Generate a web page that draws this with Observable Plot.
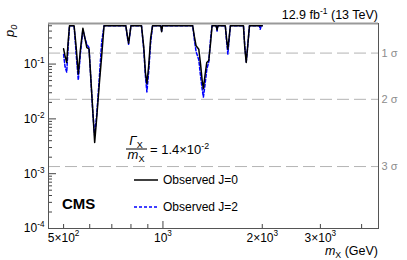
<!DOCTYPE html>
<html><head><meta charset="utf-8">
<script src="https://cdn.jsdelivr.net/npm/d3@7"></script>
<script src="https://cdn.jsdelivr.net/npm/@observablehq/plot@0.6"></script>
<style>html,body{margin:0;padding:0;background:#fff} svg{display:block}</style>
</head><body><div id="chart"></div>
<script>
// ---- data ----
const massJ0 = [500,505,511,516,521,538,546,554,562,572,580,588,597,605,613,621,630,642,652,663,
  772,780,787,795,800,861,875,885,894,905,918,930,985,991,997,
  1231,1245,1260,1284,1300,1315,1326,1340,1358,1377,1395,1409,1450,1459,1467,
  1545,1560,1573,1587,1601,1754,1770,1788,1805,1829,2000];
const p0J0 = [0.19,0.14,0.107,0.25,0.5,0.5,0.2,0.066,0.18,0.45,0.3,0.2,0.19,0.052,0.014,0.0037,0.0106,0.046,0.138,0.5,
  0.5,0.33,0.24,0.38,0.5,0.5,0.2,0.07,0.044,0.09,0.3,0.5,0.5,0.39,0.5,
  0.5,0.32,0.216,0.187,0.1,0.05,0.0355,0.06,0.107,0.116,0.25,0.5,0.5,0.42,0.5,
  0.5,0.28,0.187,0.3,0.5,0.5,0.2,0.107,0.2,0.5,0.5];
const massJ2 = [500,505,511,516,521,538,546,554,562,572,580,588,597,605,613,621,630,642,652,663,
  772,780,787,795,800,861,875,885,894,905,918,930,985,991,997,
  1231,1245,1260,1284,1300,1315,1326,1340,1358,1377,1395,1409,1450,1459,1467,
  1545,1560,1573,1587,1601,1754,1770,1788,1805,1829,1960,1972,1985,2000];
const p0J2 = [0.15,0.09,0.071,0.2,0.5,0.5,0.15,0.051,0.15,0.42,0.3,0.23,0.2,0.05,0.013,0.005,0.012,0.06,0.25,0.5,
  0.5,0.31,0.23,0.37,0.5,0.5,0.18,0.06,0.031,0.07,0.25,0.5,0.5,0.4,0.5,
  0.5,0.28,0.17,0.12,0.06,0.035,0.025,0.04,0.08,0.11,0.3,0.5,0.5,0.4,0.5,
  0.5,0.25,0.152,0.28,0.5,0.5,0.22,0.11,0.2,0.5,0.5,0.43,0.5,0.5];
const sigmaP = [0.1587, 0.02275, 0.00135];
const sigmaLabels = ["1 σ", "2 σ", "3 σ"];
const yMajor = [1e-4, 1e-3, 1e-2, 1e-1];
const yMajorLabels = ["10^{-4}", "10^{-3}", "10^{-2}", "10^{-1}"];
const yMinor = [2e-4,3e-4,4e-4,5e-4,6e-4,7e-4,8e-4,9e-4,
  2e-3,3e-3,4e-3,5e-3,6e-3,7e-3,8e-3,9e-3,
  0.02,0.03,0.04,0.05,0.06,0.07,0.08,0.09,0.2,0.3,0.4,0.5];
const xLabeled = [500, 1000, 2000, 3000];
const xLabels = ["5×10^{2}", "10^{3}", "2×10^{3}", "3×10^{3}"];
const xShort = [500,600,700,800,900,2000,3000,4000];
const xLong = [1000];
const xDomain = [450, 4500];
const yDomain = [1e-4, 0.55];
const legendLabels = ["Observed J=0", "Observed J=2"];
const titleText = "12.9 fb^{-1} (13 TeV)";
const ratioNum = "$Γ$_{X}";
const ratioDen = "$m$_{X}";
const ratioText = "= 1.4×10^{-2}";
const xTitle = "$m$_{X} (GeV)";
const yTitle = "$p_{0}$";

const j0 = massJ0.map((m, i) => ({m, p: p0J0[i]}));
const j2 = massJ2.map((m, i) => ({m, p: p0J2[i]}));

const FONT = "'Liberation Sans', Arial, sans-serif";
const chart = Plot.plot({
  width: 407, height: 260,
  marginLeft: 48, marginRight: 29, marginTop: 23, marginBottom: 32,
  style: {fontFamily: FONT, fontSize: "12px", background: "#fff", color: "#000", overflow: "visible"},
  x: {type: "log", domain: xDomain, axis: null},
  y: {type: "log", domain: yDomain, axis: null},
  marks: [
    Plot.ruleY(sigmaP, {stroke: "#b4b4b4", strokeDasharray: "12,5"}),
    Plot.text(sigmaP, {y: d => d, text: (d, i) => sigmaLabels[i], frameAnchor: "right", dx: 3, textAnchor: "start", fill: "#8c8c8c", fontSize: 11}),
    Plot.line(j2, {x: "m", y: "p", stroke: "#0000ff", strokeWidth: 1.5, strokeDasharray: "3,2"}),
    Plot.line(j0, {x: "m", y: "p", stroke: "#000", strokeWidth: 1.5}),
    Plot.tickY(yMajor, {y: d => d, frameAnchor: "left", stroke: "#444", insetRight: 322}),
    Plot.tickY(yMinor, {y: d => d, frameAnchor: "left", stroke: "#444", insetRight: 326}),
    Plot.text(yMajor, {y: d => d, text: (d, i) => yMajorLabels[i], frameAnchor: "left", dx: -4, textAnchor: "end", fontSize: 12}),
    Plot.tickX(xLong, {x: d => d, stroke: "#444", insetTop: 198}),
    Plot.tickX(xShort, {x: d => d, stroke: "#444", insetTop: 201}),
    Plot.text(xLabeled, {x: d => d, text: (d, i) => xLabels[i], frameAnchor: "bottom", dy: 13, fontSize: 12}),
    Plot.frame({stroke: "#555"}),
    Plot.ruleY([yDomain[1]], {stroke: "#999", strokeWidth: 2})
  ]
});
document.getElementById("chart").appendChild(chart);

// ---- annotations ----
const svg = d3.select(chart);
const ann = svg.append("g").attr("font-family", FONT);
function addText(str, x, y, opts = {}) {
  const t = ann.append("text").attr("x", x).attr("y", y)
    .attr("font-size", opts.size || 12)
    .attr("text-anchor", opts.anchor || "start")
    .attr("fill", opts.fill || "#000")
    .text(str);
  if (opts.weight) t.attr("font-weight", opts.weight);
  if (opts.transform) t.attr("transform", opts.transform);
  return t;
}
addText(titleText, 378, 19, {anchor: "end", size: 12.5});
addText("CMS", 62, 209, {weight: "bold", size: 15});
addText(yTitle, 14, 37, {size: 13, transform: "rotate(-90,14,37)"});
addText(xTitle, 378, 255, {anchor: "end", size: 12.5});
// ratio formula
addText(ratioNum, 136, 145, {anchor: "middle", size: 13});
addText(ratioDen, 136, 159, {anchor: "middle", size: 13});
ann.append("line").attr("x1", 126).attr("x2", 147).attr("y1", 149).attr("y2", 149).attr("stroke", "#000").attr("stroke-width", 1);
addText(ratioText, 150, 154, {size: 13});
// legend
ann.append("line").attr("x1", 134).attr("x2", 158).attr("y1", 180).attr("y2", 180).attr("stroke", "#000").attr("stroke-width", 1.5);
addText(legendLabels[0], 163, 184, {size: 12});
ann.append("line").attr("x1", 134).attr("x2", 158).attr("y1", 207).attr("y2", 207).attr("stroke", "#0000ff").attr("stroke-width", 1.5).attr("stroke-dasharray", "3,2");
addText(legendLabels[1], 163, 211, {size: 12});

// ---- rich text: ^{sup}, _{sub}, $italic$ ----
function parseRich(s) {
  const segs = []; let italic = false; let i = 0; let buf = "";
  const flush = () => { if (buf) segs.push({t: buf, kind: "n", italic}); buf = ""; };
  while (i < s.length) {
    const c = s[i];
    if (c === "$") { flush(); italic = !italic; i++; continue; }
    if ((c === "^" || c === "_") && s[i + 1] === "{") {
      flush();
      const j = s.indexOf("}", i + 2);
      const inner = s.slice(i + 2, j);
      let it = italic;
      inner.split("$").forEach((part, k) => { if (k > 0) it = !it; if (part) segs.push({t: part, kind: c === "^" ? "sup" : "sub", italic: it}); });
      italic = it;
      i = j + 1; continue;
    }
    buf += c; i++;
  }
  flush();
  return segs;
}
svg.selectAll("text").each(function() {
  const el = this;
  if (el.querySelector("tspan")) return;
  const s = el.textContent;
  if (!/[\^_]\{|\$/.test(s)) return;
  const fs = parseFloat(getComputedStyle(el).fontSize) || 12;
  const segs = parseRich(s);
  el.textContent = "";
  let shift = 0;
  segs.forEach(sg => {
    const ts = document.createElementNS("http://www.w3.org/2000/svg", "tspan");
    let target = 0;
    if (sg.kind === "sup") { target = -0.42 * fs; ts.setAttribute("font-size", (0.68 * fs).toFixed(1)); }
    else if (sg.kind === "sub") { target = 0.25 * fs; ts.setAttribute("font-size", (0.7 * fs).toFixed(1)); }
    if (target !== shift) { ts.setAttribute("dy", (target - shift).toFixed(2)); shift = target; }
    if (sg.italic) ts.setAttribute("font-style", "italic");
    ts.textContent = sg.t;
    el.appendChild(ts);
  });
});
</script></body></html>
